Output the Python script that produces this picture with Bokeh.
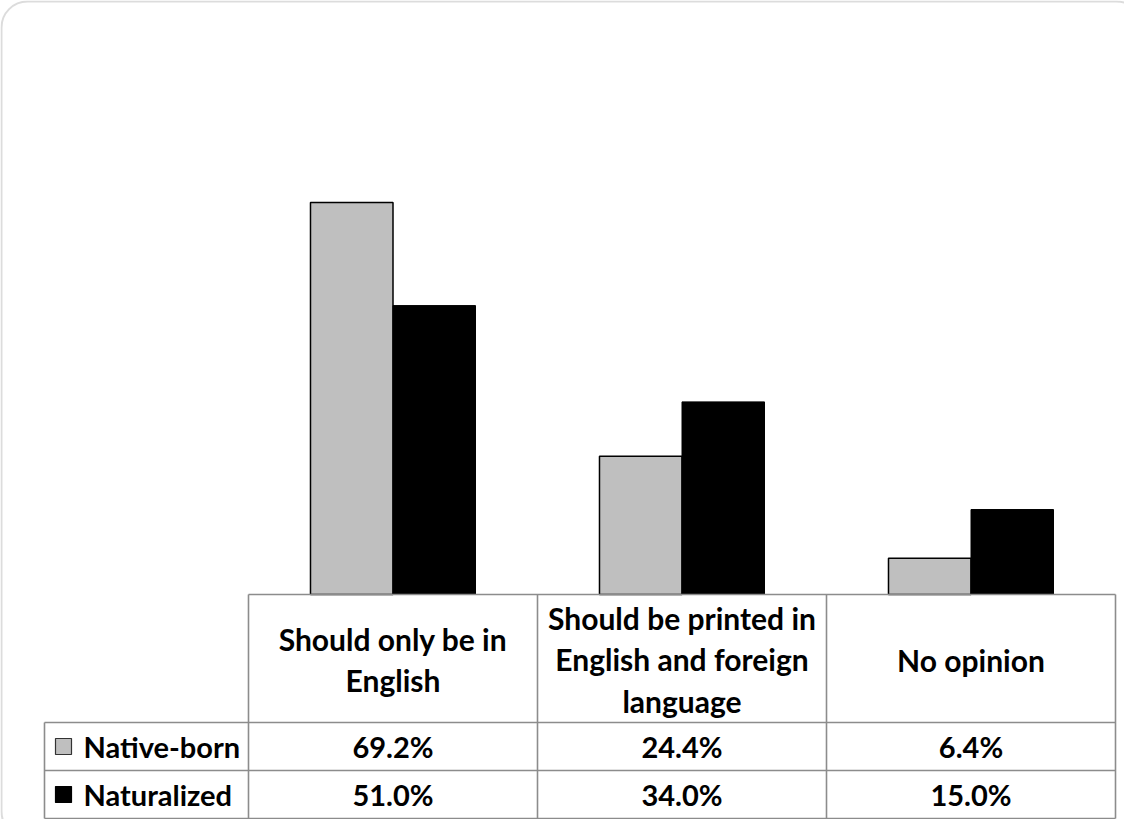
import numpy as np
from bokeh.plotting import figure
from bokeh.models import Range1d, BoxAnnotation
from bokeh.core.properties import value
from bokeh.embed import file_html
from bokeh.resources import INLINE

# ---- data ----
categories = [
    "Should only be in\nEnglish",
    "Should be printed in\nEnglish and foreign\nlanguage",
    "No opinion",
]
series_names = ["Native-born", "Naturalized"]
native_born = [69.2, 24.4, 6.4]
naturalized = [51.0, 34.0, 15.0]
series_colors = ["#BFBFBF", "#000000"]

# ---- layout constants (canvas pixels) ----
W, H = 1124, 819
COLW = 289.0          # width of one category column
X0 = -248.0 / COLW    # data x at canvas left
BASE = 594.0          # canvas y of value 0
PXPER = 5.665         # pixels per percentage point
HDR_TOP, HDR_BOT, ROW1_BOT, ROW2_BOT = 594, 722, 770, 818
LEG_LEFT_PX = 44
FONT = value("Lato")
FS = "29px"
FS_HDR = "30px"

p = figure(width=W, height=H,
           x_range=Range1d(X0, X0 + W / COLW),
           y_range=Range1d(-(H - BASE) / PXPER, BASE / PXPER),
           x_axis_type=None, y_axis_type=None,
           toolbar_location=None, output_backend="svg",
           min_border=0, outline_line_color=None,
           background_fill_color="white", border_fill_color="white")
p.extra_y_ranges = {"px": Range1d(H, 0)}
p.extra_x_ranges = {"px": Range1d(0, W)}

n = len(categories)
idx = np.arange(n) + 0.5
bw = 0.2855

# bars
p.vbar(x=idx - bw / 2, top=native_born, bottom=0, width=bw,
       fill_color=series_colors[0], line_color="black", line_width=1.5)
p.vbar(x=idx + bw / 2, top=naturalized, bottom=0, width=bw,
       fill_color=series_colors[1], line_color="black", line_width=1)

# table grid
xl = X0 + LEG_LEFT_PX / COLW
gx0 = [0, xl, xl, xl, xl] + [0, 1, 2, 3]
gx1 = [n, n, n, n, xl] + [0, 1, 2, 3]
gy0 = [HDR_TOP, HDR_BOT, ROW1_BOT, ROW2_BOT, HDR_BOT] + [HDR_TOP] * 4
gy1 = [HDR_TOP, HDR_BOT, ROW1_BOT, ROW2_BOT, ROW2_BOT] + [ROW2_BOT] * 4
p.segment(x0=gx0, y0=gy0, x1=gx1, y1=gy1, y_range_name="px",
          line_color="#8C8C8C", line_width=1.6)

# header text
p.text(x=idx, y=[(HDR_TOP + HDR_BOT) / 2 + 1] * n, text=categories, y_range_name="px",
       text_align="center", text_baseline="middle", text_font=FONT,
       text_font_style="bold", text_font_size=FS_HDR, text_line_height=1.15,
       text_color="black")

# values
r1 = (HDR_BOT + ROW1_BOT) / 2
r2 = (ROW1_BOT + ROW2_BOT) / 2
p.text(x=idx, y=[r1] * n, text=[f"{v:.1f}%" for v in native_born], y_range_name="px",
       text_align="center", text_baseline="middle", text_font=FONT,
       text_font_style="bold", text_font_size=FS, text_color="black")
p.text(x=idx, y=[r2] * n, text=[f"{v:.1f}%" for v in naturalized], y_range_name="px",
       text_align="center", text_baseline="middle", text_font=FONT,
       text_font_style="bold", text_font_size=FS, text_color="black")

# legend keys in the table
p.rect(x=[63, 63], y=[r1, r2], width=16, height=16, x_range_name="px", y_range_name="px",
       fill_color=series_colors, line_color=["#333333", "#000000"], line_width=1.2)
p.text(x=[83, 83], y=[r1, r2], text=series_names, x_range_name="px", y_range_name="px",
       text_align="left", text_baseline="middle", text_font=FONT,
       text_font_style="bold", text_font_size=FS, text_color="black")

# rounded chart-area border
p.add_layout(BoxAnnotation(left=1, right=1142, top=1, bottom=837,
                           x_range_name="px", y_range_name="px",
                           fill_color=None, line_color="#8A8A8A", line_width=2,
                           border_radius=26, level="overlay"))

open("out.html", "w").write(file_html(p, INLINE))
